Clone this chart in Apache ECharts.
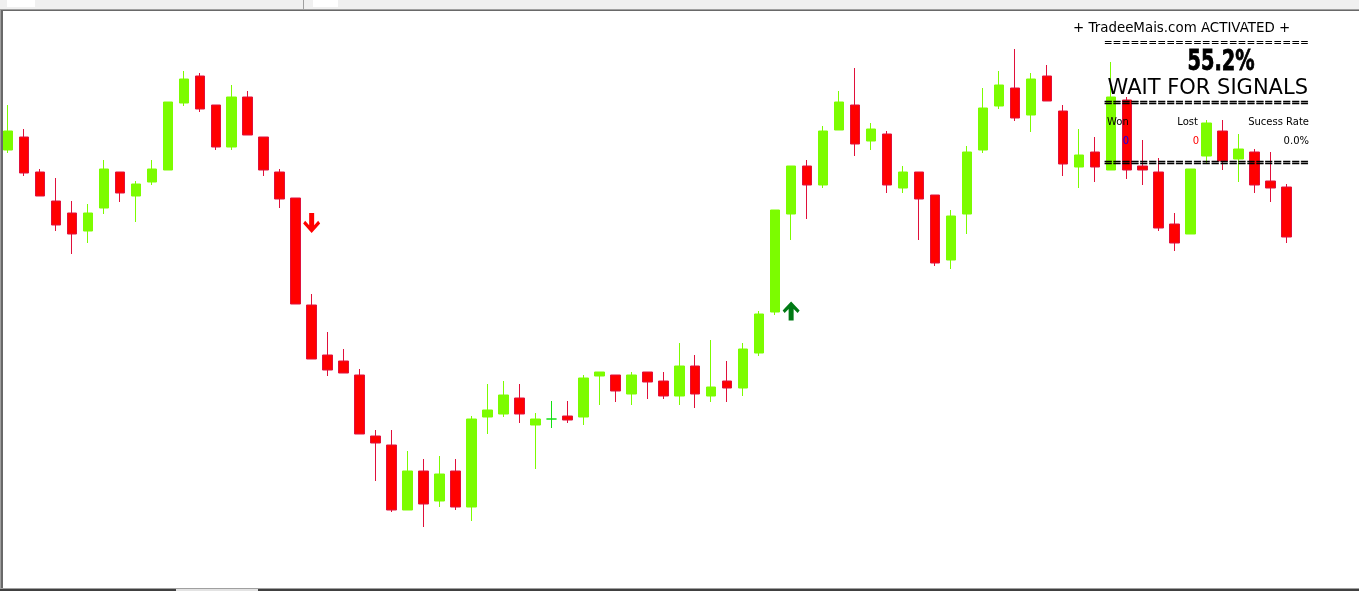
<!DOCTYPE html>
<html>
<head>
<meta charset="utf-8">
<script src="https://cdn.jsdelivr.net/npm/echarts@6/dist/echarts.min.js"></script>
<style>
html,body{margin:0;padding:0;background:#fff;}
#chart{width:1359px;height:591px;}
</style>
</head>
<body>
<div id="chart"></div>
<script>
// ---- data (price units are screen-relative) ----
const categories = Array.from({length: 85}, (_, i) => String(i + 1));
const opens  = [441,454,419,390,378,360,383,419,395,409,421,488,515,486,444,494,454,419,393,286,236,230,216,155,146,81,120,90,120,84,174,177,193,166,172,175,174,215,216,197,219,210,195,225,195,210,203,238,279,377,425,406,461,486,450,457,403,419,396,331,377,441,485,503,476,515,480,424,439,421,491,425,419,367,357,435,460,432,439,410,404];
const closes = [460,418,395,366,357,378,422,398,407,422,489,512,482,444,494,456,421,392,287,232,221,218,157,148,81,120,87,117,84,172,181,196,177,172,172,171,213,219,200,216,209,195,225,197,204,203,242,277,381,425,406,460,489,447,462,406,419,392,328,375,439,483,506,473,512,490,427,436,424,494,421,421,363,348,422,468,430,442,406,403,354];
const lows   = [438,415,395,360,337,348,377,389,369,406,421,485,479,441,441,456,415,383,287,232,215,218,157,110,79,81,64,84,81,70,157,174,168,122,163,168,166,186,189,186,192,192,186,183,189,189,195,235,276,351,372,403,461,435,441,398,398,351,325,322,357,438,482,470,459,490,415,403,409,421,412,406,360,340,357,427,421,409,398,389,348];
const highs  = [486,462,422,413,390,387,431,419,410,431,489,520,518,486,506,500,454,422,393,297,259,242,222,161,161,140,132,135,132,175,207,210,207,178,190,190,216,219,216,219,219,219,248,236,251,230,248,280,381,425,431,465,500,523,468,460,425,419,396,381,445,503,520,542,518,526,486,462,454,529,494,451,433,378,422,471,471,457,442,439,407];
const signalDown = [[19, 368]];
const signalUp   = [[49, 280]];

const panelTitle = '+ TradeeMais.com ACTIVATED +';
const panelRate  = '55.2%';
const panelState = 'WAIT FOR SIGNALS';
const panelRule  = '=======================';
const statLabels = ['Won', 'Lost', 'Sucess Rate'];
const statValues = ['0', '0', '0.0%'];

// ---- build ----
const candleData = categories.map((c, i) => {
  if (i >= opens.length) return '-';
  const item = { value: [opens[i], closes[i], lows[i], highs[i]] };
  if (opens[i] === closes[i]) item.itemStyle = { borderColor: '#12e012', color: '#12e012' };
  return item;
});

const downPath = 'path://M6,0 L11,0 L11,11 L15,7 L17,9.5 L8.5,18 L0,9.5 L2,7 L6,11 Z';
const upPath   = 'path://M6,18 L11,18 L11,7 L15,11 L17,8.5 L8.5,0 L0,8.5 L2,11 L6,7 Z';

function txt(text, x, y, font, fill, align, extra, styleExtra) {
  const el = {
    type: 'text', x: x, y: y, z: 100,
    style: Object.assign({
      text: text, font: font, fill: fill,
      textAlign: align, align: align,
      textVerticalAlign: 'middle', verticalAlign: 'middle'
    }, styleExtra || {})
  };
  return Object.assign(el, extra || {});
}
function rect(x, y, w, h, fill) {
  return { type: 'rect', z: 110, shape: { x: x, y: y, width: w, height: h }, style: { fill: fill } };
}
const FONT = "'DejaVu Sans', Verdana, sans-serif";
const thick = { stroke: '#000', lineWidth: 0.5 };

const graphics = [
  // window frame
  rect(0, 0, 1359, 9, '#f0f0f0'),
  rect(7, 0, 28, 7, '#ffffff'),
  rect(313, 0, 25, 7, '#ffffff'),
  rect(303, 0, 1, 9, '#a0a0a0'),
  rect(0, 9, 1359, 1, '#a0a0a0'),
  rect(0, 10, 1359, 1, '#696969'),
  rect(0, 9, 1, 582, '#a0a0a0'),
  rect(1, 10, 2, 581, '#696969'),
  rect(0, 588, 1359, 1, '#a0a0a0'),
  rect(0, 589, 1359, 2, '#404040'),
  rect(176, 589, 82, 2, '#e3e3e3'),
  // info panel
  txt(panelTitle, 1073, 28.5, '13.4px ' + FONT, '#000', 'left'),
  txt(panelRule, 1309, 43.5, '10.67px ' + FONT, '#000', 'right'),
  txt(panelRate, 1221, 62, "bold 29px 'DejaVu Sans Condensed', 'DejaVu Sans', sans-serif", '#000', 'center', { scaleX: 0.74 }, { stroke: '#000', lineWidth: 0.8 }),
  txt(panelState, 1308, 88.5, '21px ' + FONT, '#000', 'right'),
  txt(panelRule, 1309, 103.5, '10.67px ' + FONT, '#000', 'right', null, thick),
  txt(statLabels[0], 1107, 122, '10px ' + FONT, '#000', 'left'),
  txt(statLabels[1], 1198, 122, '10px ' + FONT, '#000', 'right'),
  txt(statLabels[2], 1309, 122, '10px ' + FONT, '#000', 'right'),
  txt(statValues[0], 1126, 141.5, '10px ' + FONT, '#0000ff', 'center'),
  txt(statValues[1], 1199, 141.5, '10px ' + FONT, '#ff0000', 'right'),
  txt(statValues[2], 1309, 141.5, '10px ' + FONT, '#000', 'right'),
  txt(panelRule, 1309, 163.5, '10.67px ' + FONT, '#000', 'right', null, thick)
];

const chart = echarts.init(document.getElementById('chart'), null, { renderer: 'canvas' });
chart.setOption({
  animation: false,
  backgroundColor: '#ffffff',
  grid: { left: -1.5, right: 0.5, top: 11, bottom: 3, containLabel: false },
  xAxis: {
    type: 'category', data: categories, boundaryGap: true,
    axisLine: { show: false }, axisTick: { show: false }, axisLabel: { show: false },
    splitLine: { show: false }
  },
  yAxis: {
    type: 'value', min: 3, max: 580, scale: true,
    axisLine: { show: false }, axisTick: { show: false }, axisLabel: { show: false },
    splitLine: { show: false }
  },
  series: [
    {
      type: 'candlestick',
      data: candleData,
      barWidth: 10,
      itemStyle: {
        color: '#7cfc00', borderColor: '#7cfc00',
        color0: '#ff0000', borderColor0: '#e0103a',
        borderWidth: 1
      }
    },
    {
      type: 'scatter', data: signalDown, symbol: downPath, symbolSize: [17, 20],
      itemStyle: { color: '#ff0000', opacity: 1 }, z: 5
    },
    {
      type: 'scatter', data: signalUp, symbol: upPath, symbolSize: [17, 19],
      itemStyle: { color: '#007a14', opacity: 1 }, z: 5
    }
  ],
  graphic: graphics
});
</script>
</body>
</html>
